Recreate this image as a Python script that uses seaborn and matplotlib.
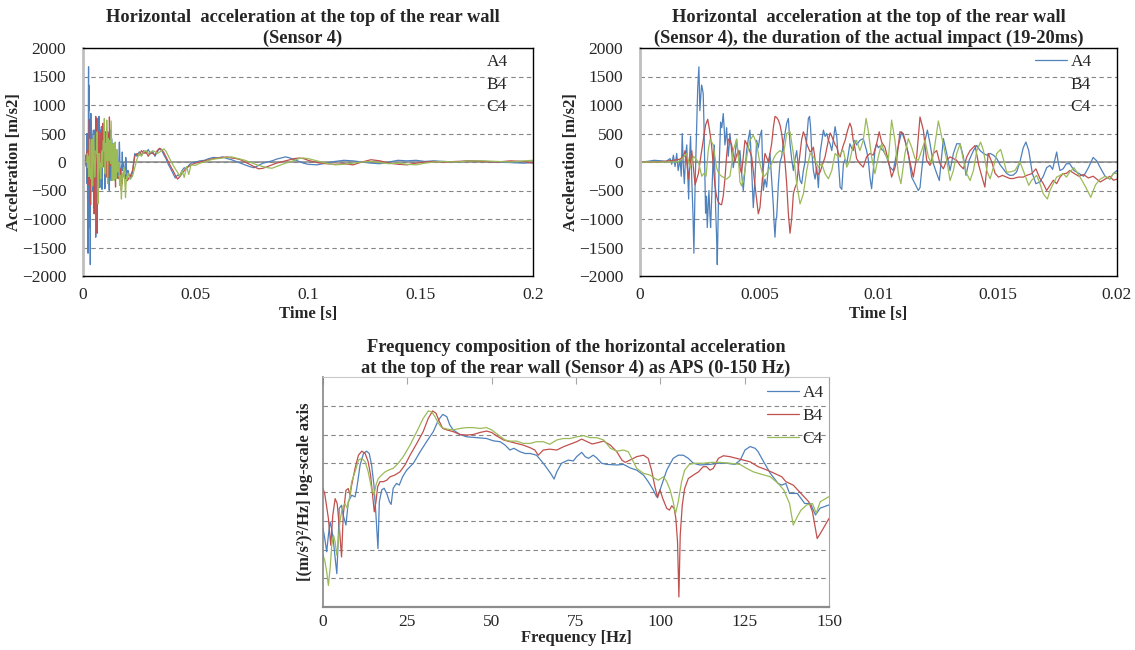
import numpy as np
import pandas as pd
import seaborn as sns
import matplotlib.pyplot as plt
from matplotlib.ticker import NullLocator, NullFormatter

SENSORS = ["A4", "B4", "C4"]
COLORS = {"A4": "#4F81BD", "B4": "#C0504D", "C4": "#9BBB59"}

# impact window, time in ms, acceleration in m/s2
imp_t_a4 = [0, 0.3, 0.6, 0.9, 1.1, 1.2, 1.26, 1.33, 1.4, 1.47, 1.54, 1.6, 1.68, 1.73, 1.77, 1.82, 1.86, 1.91, 1.96, 2.0,
            2.04, 2.08, 2.12, 2.17, 2.22, 2.26, 2.31, 2.35, 2.39, 2.42, 2.47, 2.51, 2.54, 2.58, 2.61, 2.65, 2.68, 2.72, 2.75, 2.79,
            2.82, 2.86, 2.89, 2.93, 2.96, 3.0, 3.03, 3.07, 3.1, 3.14, 3.17, 3.21, 3.24, 3.28, 3.31, 3.35, 3.38, 3.43, 3.49, 3.53,
            3.56, 3.6, 3.63, 3.67, 3.7, 3.74, 3.77, 3.84, 3.91, 3.98, 4.05, 4.12, 4.19, 4.26, 4.33, 4.4, 4.47, 4.54, 4.61, 4.68,
            4.75, 4.82, 4.89, 4.96, 5.03, 5.1, 5.17, 5.24, 5.31, 5.38, 5.45, 5.52, 5.59, 5.62, 5.66, 5.7, 5.73, 5.8, 5.87, 5.94,
            6.0, 6.08, 6.15, 6.22, 6.29, 6.36, 6.43, 6.5, 6.57, 6.64, 6.71, 6.78, 6.85, 6.92, 6.99, 7.06, 7.11, 7.15, 7.2, 7.27,
            7.34, 7.41, 7.48, 7.55, 7.62, 7.69, 7.76, 7.83, 7.9, 7.97, 8.04, 8.11, 8.18, 8.25, 8.32, 8.39, 8.46, 8.53, 8.6, 8.67,
            8.74, 8.8, 8.87, 8.94, 9.01, 9.08, 9.22, 9.36, 9.5, 9.57, 9.64, 9.71, 9.78, 9.85, 9.92, 9.99, 10.06, 10.13, 10.2, 10.34,
            10.48, 10.62, 10.76, 10.9, 10.97, 11.04, 11.11, 11.25, 11.39, 11.53, 11.67, 11.74, 11.81, 11.95, 12.05, 12.16, 12.3, 12.44, 12.55, 12.65,
            12.72, 12.86, 13.0, 13.14, 13.28, 13.42, 13.56, 13.67, 13.8, 13.98, 14.12, 14.26, 14.4, 14.54, 14.68, 14.82, 14.96, 15.1, 15.23, 15.37,
            15.51, 15.65, 15.79, 15.93, 16.07, 16.18, 16.3, 16.45, 16.6, 16.77, 16.91, 17.05, 17.19, 17.3, 17.4, 17.47, 17.54, 17.61, 17.74, 17.88,
            18.02, 18.2, 18.4, 18.6, 18.8, 19.0, 19.15, 19.3, 19.5, 19.7, 19.85, 20.0]
imp_a4 = [0, 10, 30, 20, 10, 40, 60, -40, 120, -80, 150, -150, 50, -250, 500, -100, -380, 100, 300, -200,
          -650, 100, 450, -300, -900, -1600, -400, 200, 800, 1300, 1670, 900, 1100, 1350, 1300, 1200, 700, -200, -900, -600,
          -1150, -800, -500, -900, -1150, -700, -400, 100, 300, -200, -800, -1300, -1800, -900, -200, 300, 700, 600, 850, 600,
          300, 450, 600, 300, 100, 300, 500, 200, -100, 100, 400, 100, 200, -200, -500, -150, 200, 400, 560, -100,
          -800, -300, 380, 250, 450, 560, -500, -300, -440, -100, 150, -300, -765, -1050, -1320, -1000, -970, -400, 0, 90,
          300, 500, 680, 765, 320, 50, -150, 50, 200, -100, -320, -380, -150, 0, 400, 765, 800, 620, 200, -150,
          -300, -90, -450, 150, 350, 560, 450, 500, 380, 320, 200, 400, 620, 440, 0, -440, -480, -30, 50, -30,
          150, 320, 250, 200, 380, 300, 380, 410, 200, 50, -265, -470, -150, 200, 320, 250, 280, 220, 200, 90,
          -90, -150, 150, 400, 530, 450, 380, 150, -265, -380, -500, -450, -150, 380, 560, 320, -30, -200, -325, 100,
          410, 150, -150, 150, 320, 320, 90, -235, 30, 200, 290, 200, 150, 120, 150, 120, 60, -50, -120, -200,
          -235, -230, -175, 0, 250, 350, 200, -200, -380, -350, -250, -100, -60, -130, 50, 175, -20, -150, -120, -30,
          -30, -150, -200, -250, -100, 80, 20, -100, -250, -300, -200, -150]

imp_t_b4 = [0, 0.5, 1.0, 1.4, 1.68, 1.82, 1.89, 1.96, 2.03, 2.1, 2.17, 2.24, 2.31, 2.38, 2.45, 2.55, 2.66, 2.75, 2.84, 2.92,
            3.0, 3.07, 3.14, 3.21, 3.28, 3.35, 3.42, 3.49, 3.56, 3.63, 3.7, 3.77, 3.84, 3.91, 3.98, 4.05, 4.12, 4.19, 4.26, 4.33,
            4.4, 4.54, 4.68, 4.82, 4.96, 5.03, 5.1, 5.17, 5.24, 5.31, 5.38, 5.45, 5.52, 5.59, 5.66, 5.73, 5.8, 5.87, 5.94, 6.01,
            6.08, 6.15, 6.22, 6.29, 6.36, 6.43, 6.5, 6.57, 6.64, 6.71, 6.78, 6.85, 6.92, 6.99, 7.06, 7.13, 7.2, 7.27, 7.34, 7.41,
            7.48, 7.55, 7.65, 7.76, 7.86, 7.97, 8.04, 8.11, 8.18, 8.25, 8.32, 8.39, 8.46, 8.53, 8.6, 8.7, 8.8, 8.87, 8.94, 9.01,
            9.08, 9.22, 9.36, 9.5, 9.64, 9.78, 9.92, 10.03, 10.13, 10.27, 10.41, 10.55, 10.69, 10.76, 10.9, 11.04, 11.18, 11.32, 11.46, 11.6,
            11.74, 11.88, 12.02, 12.16, 12.3, 12.44, 12.58, 12.72, 12.86, 13.0, 13.14, 13.28, 13.42, 13.56, 13.7, 13.84, 14.05, 14.2, 14.33, 14.46,
            14.6, 14.75, 14.89, 15.03, 15.2, 15.37, 15.51, 15.65, 15.86, 16.07, 16.21, 16.42, 16.6, 16.77, 16.91, 17.05, 17.19, 17.33, 17.47, 17.61,
            17.74, 17.88, 18.02, 18.2, 18.4, 18.6, 18.8, 19.0, 19.3, 19.5, 19.7, 19.85, 20.0]
imp_b4 = [0, 0, 10, 30, 50, 100, 200, 0, -300, -50, 200, -100, -400, -300, -200, 100, 400, 650, 750, 550,
          300, -50, -400, -600, -700, -740, -750, -600, -300, 100, 400, 380, 300, 150, 0, 120, 200, -100, -200, 100,
          380, 260, 100, -400, -910, -800, -440, -100, 150, 80, 0, 150, 320, 600, 800, 780, 735, 650, 500, 250,
          0, -380, -900, -1250, -1000, -560, -450, -380, -100, 150, 400, 530, 450, 320, 250, 175, 200, 260, 50, -200,
          -220, -175, -50, 90, 300, 510, 450, 380, 300, 260, 150, 90, 200, 300, 380, 550, 680, 600, 380, 250,
          60, -30, -90, 90, 150, 120, 320, 530, 350, 260, 30, -265, -100, 30, 530, 500, 260, 0, -265, 90,
          790, 560, 30, -60, 150, 200, -30, -120, 30, 90, 60, 30, -60, -120, 90, 200, 290, -50, -250, -440,
          150, 0, -200, -265, -235, -265, -290, -290, -265, -265, -235, -205, -120, -290, -380, -500, -410, -320, -380, -265,
          -205, -200, -150, -200, -250, -220, -280, -250, -350, -300, -250, -320, -300]

imp_t_c4 = [0, 0.5, 1.0, 1.5, 1.68, 1.82, 1.96, 2.1, 2.24, 2.35, 2.45, 2.59, 2.68, 2.77, 2.86, 2.94, 3.07, 3.14, 3.21, 3.3,
            3.42, 3.55, 3.63, 3.77, 3.84, 3.91, 4.05, 4.12, 4.19, 4.26, 4.33, 4.4, 4.5, 4.61, 4.75, 4.89, 5.03, 5.17, 5.28, 5.38,
            5.52, 5.62, 5.73, 5.87, 6.01, 6.08, 6.15, 6.29, 6.43, 6.57, 6.71, 6.85, 6.99, 7.13, 7.27, 7.38, 7.48, 7.62, 7.76, 7.9,
            8.04, 8.18, 8.32, 8.46, 8.53, 8.67, 8.8, 8.95, 9.08, 9.22, 9.36, 9.48, 9.57, 9.71, 9.85, 9.99, 10.13, 10.27, 10.41, 10.55,
            10.69, 10.83, 10.94, 11.11, 11.25, 11.39, 11.53, 11.67, 11.81, 11.95, 12.09, 12.23, 12.37, 12.51, 12.65, 12.86, 13.0, 13.14, 13.28, 13.42,
            13.56, 13.7, 13.84, 13.98, 14.12, 14.28, 14.4, 14.54, 14.68, 14.82, 14.96, 15.12, 15.23, 15.37, 15.51, 15.72, 15.93, 16.07, 16.3, 16.42,
            16.63, 16.77, 16.91, 17.08, 17.19, 17.33, 17.47, 17.61, 17.74, 17.88, 18.02, 18.2, 18.35, 18.5, 18.7, 18.9, 19.1, 19.3, 19.5, 19.7,
            19.85, 20.0]
imp_c4 = [0, 0, 0, 0, 20, 80, 150, -100, 100, 50, 0, -250, -200, -250, 200, 400, 300, 100, -100, -200,
          -250, -280, -300, -250, -50, 200, 400, 100, -350, -420, -300, -150, 150, 380, 470, 320, -30, -265, -220, -150,
          -30, 80, 150, 200, 150, 300, 500, 530, 150, -380, -735, -560, -150, 150, 90, 0, -90, -30, -205, -295,
          -150, 150, 90, 180, 200, -90, 30, 320, 380, 200, 380, 765, 550, 90, -205, 90, 320, 150, 30, 735,
          380, -200, -380, 150, 410, 260, 60, 30, 200, 380, 90, -30, 320, 720, 440, 30, -325, -150, 150, 320,
          30, -205, -325, -150, 200, 350, 200, -150, -295, -90, 150, 220, 60, -175, -175, -150, 0, -150, -410, -320,
          -235, -380, -560, -650, -500, -380, -265, -235, -200, -265, -175, -100, -200, -300, -450, -620, -400, -300, -250, -300,
          -200, -200]

# decay after the impact, time in ms
tail_t = [21, 22, 23, 24, 25, 26, 27, 28, 29, 30, 31, 32, 33, 34, 35, 36, 37, 38, 39, 40,
          41, 42, 43, 44, 45, 46, 47, 48, 50, 52, 54, 56, 58, 60, 62, 64, 66, 68, 70, 72,
          74, 76, 78, 80, 82, 84, 86, 88, 90, 92, 94, 96, 98, 100, 104, 108, 112, 116, 120, 124,
          128, 132, 136, 140, 144, 148, 152, 156, 160, 166, 172, 178, 184, 190, 196, 200]
tail_a4 = [-300, -200, 150, 100, 180, 120, 200, 150, 220, 140, 180, 100, 180, 230, 200, 120, 50, -50, -120, -200,
           -280, -230, -250, -150, -100, -120, -60, -20, 0, 20, 30, 60, 80, 70, 90, 60, 40, 10, -20, -50,
           -80, -100, -60, -20, 0, 20, 50, 70, 90, 70, 40, 10, -20, -40, -50, -20, 10, 30, 20, 0,
           -20, -30, 0, 30, 20, 30, 10, 20, 10, 0, 20, 10, 0, -10, -20, -10]
tail_b4 = [-250, -150, 100, 150, 120, 200, 150, 180, 100, 170, 150, 120, 200, 240, 220, 160, 80, 0, -80, -150,
           -230, -300, -260, -200, -150, -100, -80, -50, -20, 0, 20, 40, 60, 70, 80, 90, 70, 60, 40, 0,
           -40, -80, -120, -110, -80, -50, -20, 0, 20, 40, 60, 70, 60, 30, -10, -30, -40, -30, -50, 0,
           40, 20, -20, -40, -50, -20, 0, 10, 0, 10, 20, 10, 0, 20, 10, -20]
tail_c4 = [-300, -250, -100, 50, 150, 100, 180, 200, 150, 170, 200, 180, 150, 170, 210, 230, 180, 100, 20, -50,
           -120, -180, -250, -150, -270, -80, -220, -50, -60, -20, 0, 30, 50, 60, 70, 80, 90, 70, 50, 30,
           0, -30, -60, -80, -100, -110, -80, -50, -20, 0, 30, 60, 70, 60, 20, -20, -50, -40, -20, 0,
           10, -10, -30, -20, -40, -50, -20, 0, 10, 0, 20, 20, 10, 0, 20, 30]

# APS, frequency in Hz and log10 of the spectral value
f_a4 = [0, 0.5, 1.1, 1.6, 2.1, 2.6, 3.1, 3.6, 4.1, 4.5, 4.8, 5.5, 6.0, 6.8, 7.5, 8.5, 9.5, 10, 11, 12,
        12.9, 13.7, 14.4, 15.1, 15.7, 16.3, 16.7, 17.4, 18.1, 18.9, 19.7, 20.2, 20.8, 21.8, 22.6, 23.6, 24.8, 26.8, 28.8, 30.7,
        32.7, 34.2, 35.5, 36.7, 37.6, 38.6, 40.6, 42.6, 45.6, 48.5, 50.5, 52.5, 54, 55.4, 56.6, 58.4, 59.9, 61.4, 63.3, 65.3,
        66.8, 67.8, 68.5, 69.3, 70.7, 72.7, 74.2, 75.2, 76.7, 77.7, 78.7, 80.1, 81.1, 82.6, 84.1, 87.1, 89.1, 91, 93, 95,
        96.4, 97.9, 98.9, 99.7, 100.4, 101.9, 103.8, 105.3, 106.8, 108.3, 109.8, 111.7, 114.7, 117.2, 119.7, 122.1, 123.7, 125.1, 126.6, 128.1,
        129, 130.3, 132.6, 134.9, 136, 137.2, 138.3, 140.6, 142.8, 144.5, 146, 147.4, 150]
aps_a4 = [2.73, 2.4, 1.92, 2.5, 2.96, 2.7, 2.27, 1.7, 1.16, 2.3, 3.43, 3.54, 3.19, 2.85, 3.66, 3.89, 3.83, 4.12, 4.94, 5.34,
          5.42, 5.34, 4.94, 4.24, 3.19, 2.03, 3.66, 4.07, 4.13, 3.95, 3.66, 3.57, 4.13, 4.3, 4.24, 4.53, 4.76, 5.0, 5.4, 5.75,
          6.1, 6.5, 6.7, 6.62, 6.33, 6.16, 6.0, 5.92, 5.89, 5.86, 5.78, 5.75, 5.63, 5.46, 5.52, 5.4, 5.34, 5.34, 5.28, 5.0,
          4.76, 4.59, 4.45, 4.7, 5.0, 5.11, 5.08, 5.23, 5.38, 5.23, 5.17, 5.28, 5.19, 5.0, 4.96, 4.94, 4.96, 4.84, 4.76, 4.59,
          4.36, 4.07, 3.83, 4.0, 4.24, 4.76, 5.17, 5.28, 5.28, 5.17, 5.0, 4.94, 4.96, 5.0, 5.0, 4.96, 5.11, 5.46, 5.58, 5.52,
          5.4, 5.12, 4.65, 4.3, 4.24, 4.3, 3.95, 3.95, 3.6, 3.6, 3.2, 3.44, 3.55]

f_b4 = [0, 0.5, 1.6, 2.3, 2.9, 3.6, 4.2, 4.8, 5.5, 6.0, 6.8, 7.5, 8.0, 8.5, 9.5, 10.5, 11.5, 12.5, 13.4, 14.1,
        14.7, 15.2, 15.7, 16.2, 16.9, 17.9, 18.9, 19.9, 21.3, 22.8, 24.3, 25.8, 27.8, 29.7, 31.2, 32.5, 33.5, 34.5, 35.5, 36.7,
        38.6, 40.6, 42.6, 44.6, 46.5, 48.5, 50, 51.5, 53.5, 55.4, 57.4, 59.4, 61.4, 62.8, 63.8, 65.3, 67.2, 69.3, 71.2, 73.2,
        75.2, 76.7, 78.3, 79.8, 81.3, 83.2, 85.2, 87.1, 88.6, 89.6, 91, 93, 95, 96.4, 97.4, 98.4, 99.2, 99.9, 100.7, 101.9,
        102.7, 103.4, 104.1, 104.6, 105.1, 105.5, 105.9, 106.5, 107.2, 108.3, 109.8, 111.3, 112.7, 113.7, 114.7, 115.7, 117.2, 118.7, 120.6, 123.6,
        126.6, 129, 131.5, 133.8, 136, 137.2, 139.4, 141.7, 144, 145.1, 146.5, 148, 150]
aps_b4 = [4.12, 3.95, 3.08, 2.15, 3.19, 3.77, 3.6, 2.85, 1.74, 3.19, 4.06, 4.12, 3.89, 4.24, 4.82, 5.28, 5.42, 5.34, 5.05, 4.59,
          3.89, 3.31, 3.66, 4.18, 4.36, 4.36, 4.41, 4.53, 4.59, 4.7, 4.94, 5.28, 5.69, 6.1, 6.56, 6.82, 6.74, 6.45, 6.21, 6.16,
          6.1, 6.0, 5.98, 6.0, 6.07, 6.12, 6.07, 5.95, 5.81, 5.75, 5.69, 5.63, 5.54, 5.46, 5.28, 5.46, 5.49, 5.46, 5.57, 5.66,
          5.75, 5.84, 5.75, 5.67, 5.71, 5.77, 5.63, 5.4, 5.11, 5.03, 5.11, 5.23, 5.28, 5.17, 4.76, 4.18, 3.8, 4.07, 3.78, 3.43,
          3.37, 3.52, 3.43, 3.08, 2.26, 0.35, 2.5, 3.54, 4.12, 4.47, 4.59, 4.7, 4.88, 4.88, 4.76, 4.82, 5.17, 5.26, 5.23, 5.14,
          5.05, 4.88, 4.77, 4.65, 4.53, 4.36, 4.24, 3.95, 3.66, 3.31, 2.38, 2.67, 3.08]

f_c4 = [0, 0.5, 1.1, 1.6, 2.1, 2.6, 3.1, 3.6, 4.1, 4.5, 5.0, 5.7, 6.5, 7.2, 7.8, 8.5, 9.5, 10.5, 11.5, 12.5,
        13.4, 14.4, 15.1, 15.7, 16.4, 17.4, 18.4, 19.4, 20.8, 22.3, 23.8, 25.8, 27.8, 29.7, 31.2, 32.2, 33.2, 34.2, 35.2, 36.7,
        38.6, 40.6, 42.6, 44.6, 46.5, 48.5, 50, 52, 54, 55.4, 57.4, 59.4, 61.4, 63.3, 65.3, 67.2, 69.3, 71.2, 73.2, 75.2,
        77.2, 79.2, 81.1, 83.2, 85.2, 87.1, 89.1, 90.5, 91.5, 93, 95, 96.9, 98.4, 99.4, 100.9, 101.9, 102.9, 103.8, 104.5, 105.3,
        106.3, 107.2, 108.6, 110.2, 112.7, 115.2, 117.7, 120.6, 123.6, 125.6, 127.6, 129, 132.6, 134.9, 136.6, 138.3, 139.4, 140.6, 141.7, 143.4,
        145.1, 146.2, 147.4, 150]
aps_c4 = [1.8, 1.63, 1.22, 0.75, 1.34, 2.15, 2.5, 2.26, 1.8, 2.26, 2.96, 3.43, 3.6, 3.43, 3.77, 4.36, 4.7, 5.11, 5.17, 5.05,
          4.7, 4.12, 3.89, 4.24, 4.47, 4.59, 4.7, 4.76, 4.82, 5.0, 5.23, 5.63, 6.1, 6.56, 6.82, 6.79, 6.62, 6.39, 6.24, 6.19,
          6.16, 6.21, 6.24, 6.24, 6.21, 6.24, 6.16, 5.98, 5.81, 5.77, 5.77, 5.69, 5.69, 5.75, 5.75, 5.66, 5.81, 5.86, 5.86, 5.92,
          5.96, 5.89, 5.89, 5.81, 5.52, 5.42, 5.46, 5.4, 5.17, 4.82, 4.65, 4.59, 4.47, 4.41, 4.53, 4.36, 4.07, 3.66, 3.25, 3.66,
          4.36, 4.76, 4.96, 5.0, 5.0, 5.03, 5.03, 5.0, 4.96, 4.82, 4.7, 4.65, 4.53, 4.3, 4.07, 3.6, 2.85, 3.14, 3.37, 3.55,
          3.6, 3.26, 3.66, 3.84]

TITLE_1 = "Horizontal  acceleration at the top of the rear wall\n(Sensor 4)"
TITLE_2 = "Horizontal  acceleration at the top of the rear wall\n(Sensor 4), the duration of the actual impact (19-20ms)"
TITLE_3 = "Frequency composition of the horizontal acceleration\nat the top of the rear wall (Sensor 4) as APS (0-150 Hz)"


def build_frames():
    imp = {"A4": (imp_t_a4, imp_a4), "B4": (imp_t_b4, imp_b4), "C4": (imp_t_c4, imp_c4)}
    tail = {"A4": tail_a4, "B4": tail_b4, "C4": tail_c4}
    aps = {"A4": (f_a4, aps_a4), "B4": (f_b4, aps_b4), "C4": (f_c4, aps_c4)}
    short, full, spec = [], [], []
    for s in SENSORS:
        t, a = imp[s]
        short.append(pd.DataFrame({"t": np.array(t) / 1000, "acc": a, "sensor": s}))
        full.append(pd.DataFrame({"t": np.array(list(t) + tail_t) / 1000, "acc": list(a) + tail[s], "sensor": s}))
        f, p = aps[s]
        spec.append(pd.DataFrame({"f": f, "aps": np.power(10.0, p), "sensor": s}))
    return pd.concat(full), pd.concat(short), pd.concat(spec)


sns.set_style("white")
plt.rcParams["font.family"] = ["Liberation Serif", "DejaVu Serif"]
FS_TICK = 12.5
FS_LEG = 12.5
LABEL = dict(fontsize=12, fontweight="bold")
TITLE = dict(fontsize=13.2, fontweight="bold")

df_full, df_short, df_spec = build_frames()

fig = plt.figure(figsize=(11.35, 6.5), dpi=100)
W, H = 1135, 650


def axes_px(x0, x1, y0, y1):
    return fig.add_axes([x0 / W, 1 - y1 / H, (x1 - x0) / W, (y1 - y0) / H])


def style_time(ax, xmax, xticks, xlabels):
    ax.set_xlim(0, xmax)
    ax.set_ylim(-2000, 2000)
    ax.set_yticks(range(-2000, 2001, 500))
    ax.set_xticks(xticks)
    ax.set_xticklabels(xlabels)
    ax.yaxis.grid(True, linestyle=(0, (4, 3)), color="#868686", lw=0.8)
    ax.axhline(0, color="#868686", lw=1.1, zorder=1)
    ax.tick_params(length=0, labelsize=FS_TICK)
    ax.tick_params(axis="y", pad=12)
    ax.tick_params(axis="x", pad=8)
    for side in ["top", "right", "bottom"]:
        ax.spines[side].set_color("black")
        ax.spines[side].set_linewidth(1.0)
    ax.spines["left"].set_color("#BFBFBF")
    ax.spines["left"].set_linewidth(2.0)
    ax.set_xlabel("Time [s]", labelpad=2, **LABEL)
    ax.set_ylabel("Acceleration [m/s2]", labelpad=0, **LABEL)


def add_legend(ax, x, y, hidden):
    handles, labels = ax.get_legend_handles_labels()
    leg = ax.legend(handles, labels, loc="upper left", bbox_to_anchor=(x, y), frameon=False,
                    fontsize=FS_LEG, handlelength=1.85, handletextpad=0.2, labelspacing=0.38,
                    borderpad=0, borderaxespad=0)
    for h, lab in zip(leg.legend_handles, labels):
        if lab in hidden:
            h.set_visible(False)


# panel 1: whole record
ax1 = axes_px(83, 533, 48, 276)
sns.lineplot(data=df_full, x="t", y="acc", hue="sensor", palette=COLORS, hue_order=SENSORS,
             lw=0.9, ax=ax1, sort=False, estimator=None)
style_time(ax1, 0.2, [0, 0.05, 0.1, 0.15, 0.2], ["0", "0.05", "0.1", "0.15", "0.2"])
ax1.set_title(TITLE_1, x=0.489, pad=4, linespacing=1.25, **TITLE)
add_legend(ax1, 0.818, 0.975, SENSORS)

# panel 2: impact window
ax2 = axes_px(640, 1117, 48, 276)
sns.lineplot(data=df_short, x="t", y="acc", hue="sensor", palette=COLORS, hue_order=SENSORS,
             lw=0.9, ax=ax2, sort=False, estimator=None)
style_time(ax2, 0.02, [0, 0.005, 0.01, 0.015, 0.02], ["0", "0.005", "0.01", "0.015", "0.02"])
ax2.set_title(TITLE_2, x=0.48, pad=4, linespacing=1.25, **TITLE)
add_legend(ax2, 0.828, 0.975, ["B4", "C4"])

# panel 3: APS
ax3 = axes_px(323, 829, 377, 607)
sns.lineplot(data=df_spec, x="f", y="aps", hue="sensor", palette=COLORS, hue_order=SENSORS,
             lw=0.9, ax=ax3, sort=False, estimator=None)
ax3.set_yscale("log")
ax3.set_ylim(1, 1e8)
ax3.set_xlim(0, 150)
ax3.set_xticks(range(0, 151, 25))
ax3.set_yticks([10.0 ** k for k in range(1, 8)])
ax3.yaxis.set_major_formatter(NullFormatter())
ax3.yaxis.set_minor_locator(NullLocator())
ax3.yaxis.grid(True, linestyle=(0, (4, 3)), color="#868686", lw=0.8)
ax3.tick_params(axis="y", length=0)
ax3.tick_params(axis="x", top=True, bottom=False, direction="in", length=5, color="#A6A6A6",
                labelsize=FS_TICK, pad=5)
ax3.spines["left"].set_color("#868686")
ax3.spines["left"].set_linewidth(1.2)
ax3.spines["bottom"].set_color("#8C8C8C")
ax3.spines["bottom"].set_linewidth(1.6)
ax3.spines["top"].set_color("#C8C8C8")
ax3.spines["right"].set_color("#A6A6A6")
ax3.set_xlabel("Frequency [Hz]", labelpad=0, **LABEL)
ax3.set_ylabel("[(m/s²)²/Hz] log-scale axis", labelpad=4, **LABEL)
ax3.set_title(TITLE_3, pad=3, linespacing=1.25, **TITLE)
add_legend(ax3, 0.877, 0.965, [])

fig.savefig("out.png", dpi=100, facecolor="white")
